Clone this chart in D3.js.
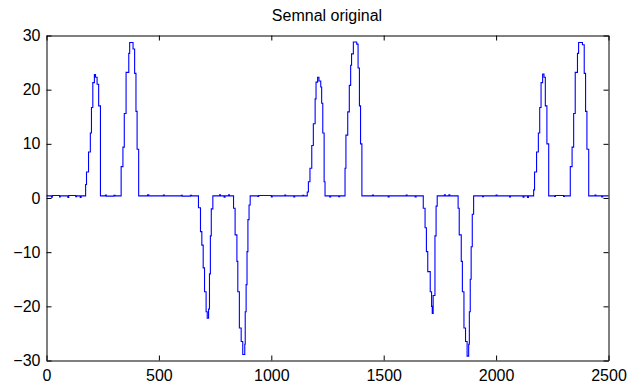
<!DOCTYPE html>
<html>
<head>
<meta charset="utf-8">
<script src="https://cdn.jsdelivr.net/npm/d3@7"></script>
<style>
  body { margin: 0; background: #fff; }
  text { font-family: "Liberation Sans", Arial, sans-serif; }
</style>
</head>
<body>
<div class="canvas"></div>
<script>
// signal breakpoints [sample, value] (held until next point)
const quiet0 = [[0,0.4],[22,0.15],[26,0.45],[58,0.2],[61,0.4],[95,0.1],[99,0.45],[130,0.25],[134,0.4],[150,0.1],[154,0.4]];
const posA1 = [[174,2.5],[178,4.8],[187,8.5],[195,12],[200,16.7],[206,21.3],[213,22.8],[218,22.3],[225,21],[232,17],[240,0.4]];
const quiet1 = [[262,0.55],[266,0.35],[300,0.5],[305,0.4]];
const posB1 = [[332,5.8],[340,9.4],[346,15.6],[354,23.2],[366,26.7],[370,28.7],[385,27.5],[392,23],[398,16],[403,9],[410,0.4]];
const quiet2 = [[450,0.6],[455,0.4],[520,0.55],[524,0.4],[600,0.5],[604,0.35],[640,0.5],[645,0.4]];
const negA1 = [[676,-1.8],[685,-6.2],[691,-8.7],[697,-12.9],[703,-17.3],[710,-21],[715,-22.2],[721,-20.5],[725,-14],[729,-7],[733,-2],[740,0.4]];
const quiet3 = [[770,0.6],[774,0.4],[790,0.15],[794,0.4],[810,0.6],[814,0.4]];
const negB1 = [[832,-1.9],[839,-6.8],[847,-11.7],[851,-17.3],[858,-24],[866,-26.5],[873,-28.9],[882,-27],[884,-21],[888,-16],[892,-9.9],[896,-4],[901,-1.3],[906,0.4]];
const quiet4 = [[940,0.3],[944,0.45],[1000,0.2],[1004,0.4],[1060,0.55],[1064,0.4],[1100,0.2],[1104,0.4],[1140,0.5],[1144,0.4]];
const posA2 = [[1160,1.1],[1165,3],[1172,5.5],[1180,9.7],[1187,13.7],[1195,18.3],[1199,21.4],[1206,22.3],[1212,21.6],[1220,20.5],[1224,17.5],[1229,12],[1235,3],[1239,0.4]];
const quiet5 = [[1260,0.2],[1264,0.4],[1300,0.25],[1304,0.4]];
const posB2 = [[1328,5.5],[1332,11.6],[1340,15.9],[1347,20.8],[1353,24.5],[1357,26.6],[1365,28.8],[1380,28.4],[1386,24],[1392,17],[1397,10],[1403,0.4]];
const quiet6 = [[1450,0.55],[1454,0.4],[1520,0.2],[1524,0.4],[1600,0.55],[1604,0.4],[1640,0.2],[1644,0.4]];
const negA2 = [[1676,-1.9],[1684,-5.5],[1690,-9.9],[1696,-13.6],[1707,-17.3],[1713,-20],[1716,-21.3],[1720,-18],[1728,-7],[1733,-1.5],[1738,0.4]];
const quiet7 = [[1770,0.6],[1774,0.4],[1790,0.6],[1794,0.4]];
const negB2 = [[1831,-1.9],[1836,-6.8],[1845,-11.7],[1850,-17.3],[1857,-24],[1864,-26.5],[1871,-29.2],[1878,-27],[1881,-21],[1885,-15],[1889,-9],[1894,-3],[1900,0.4]];
const quiet8 = [[1940,0.25],[1944,0.4],[2000,0.55],[2004,0.4],[2060,0.2],[2064,0.4],[2120,0.15],[2124,0.4],[2140,0.1],[2144,0.4]];
const posA3 = [[2167,1.5],[2171,4.8],[2180,8.5],[2188,12],[2194,16.7],[2200,21.3],[2207,22.9],[2213,22.3],[2219,17],[2226,10],[2234,0.4]];
const quiet9 = [[2260,0.3],[2264,0.45],[2300,0.3],[2304,0.4]];
const posB3 = [[2330,5.8],[2338,9.4],[2345,15.6],[2352,23.2],[2362,26.7],[2367,28.7],[2384,28.3],[2392,23],[2398,16],[2404,9],[2412,0.4]];
const quiet10 = [[2440,0.55],[2444,0.4],[2470,0.2],[2474,0.4],[2500,0.4]];

const xTicks = [0, 500, 1000, 1500, 2000, 2500];
const yTicks = [-30, -20, -10, 0, 10, 20, 30];
const title = 'Semnal original';

const signal = [].concat(quiet0, posA1, quiet1, posB1, quiet2, negA1, quiet3, negB1,
  quiet4, posA2, quiet5, posB2, quiet6, negA2, quiet7, negB2, quiet8, posA3, quiet9, posB3, quiet10);

var margin = {top: 35, right: 30, bottom: 28, left: 46},
  width = 562,
  height = 325;

var svg = d3.select('.canvas')
  .append('svg')
  .attr('width', 638)
  .attr('height', 388);

const graph = svg.append('g')
  .attr('transform', `translate(${margin.left + 0.5},${margin.top + 0.5})`);

// scales
const x = d3.scaleLinear().domain([0, 2500]).range([0, width]);
const y = d3.scaleLinear().domain([-30, 30]).range([height, 0]);

// signal line
const line = d3.line()
  .x(d => x(d[0]))
  .y(d => y(d[1]))
  .curve(d3.curveStepAfter);

graph.append('path')
  .datum(signal)
  .attr('fill', 'none')
  .attr('stroke', '#0000ff')
  .attr('stroke-width', 1.1)
  .attr('d', line);

// axes, ticks pointing inward on all four sides
const styleAxis = g => {
  g.select('.domain').attr('stroke', '#000');
  g.selectAll('.tick line').attr('stroke', '#000');
  g.selectAll('text').attr('fill', '#000').style('font-size', '16px');
};

graph.append('g')
  .attr('transform', `translate(0,${height})`)
  .call(d3.axisBottom(x).tickValues(xTicks).tickSize(-5).tickSizeOuter(0).tickPadding(9).tickFormat(d3.format('d')))
  .call(styleAxis);

graph.append('g')
  .call(d3.axisLeft(y).tickValues(yTicks).tickSize(-5).tickSizeOuter(0).tickPadding(6).tickFormat(d3.format('d')))
  .call(styleAxis);

graph.append('g')
  .call(d3.axisTop(x).tickValues(xTicks).tickSize(-5).tickSizeOuter(0).tickFormat(''))
  .call(styleAxis);

graph.append('g')
  .attr('transform', `translate(${width},0)`)
  .call(d3.axisRight(y).tickValues(yTicks).tickSize(-5).tickSizeOuter(0).tickFormat(''))
  .call(styleAxis);

// title
svg.append('text')
  .attr('x', margin.left + width / 2)
  .attr('y', 21)
  .attr('text-anchor', 'middle')
  .style('font-size', '16px')
  .attr('fill', '#000')
  .text(title);
</script>
</body>
</html>
